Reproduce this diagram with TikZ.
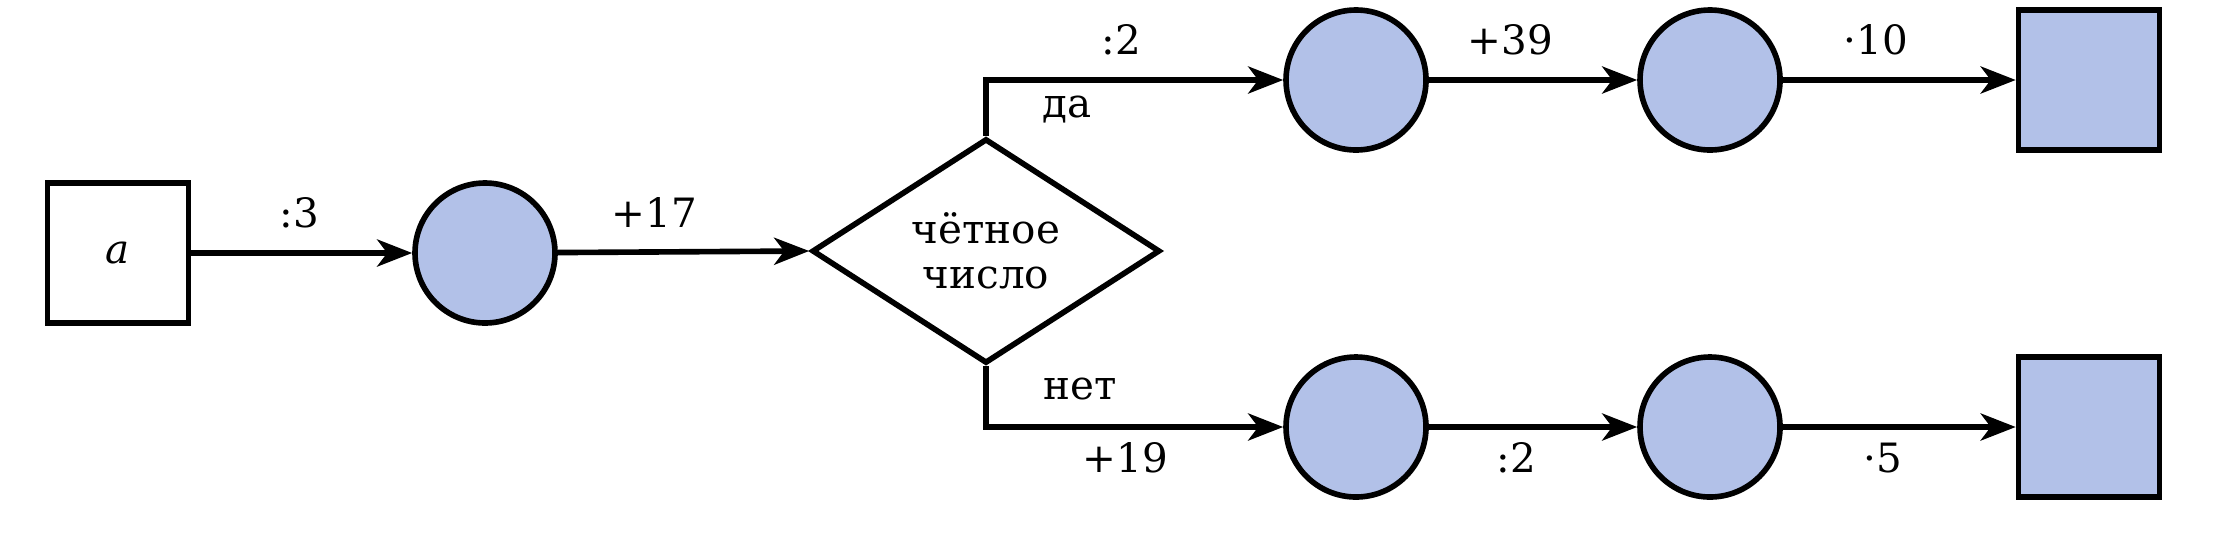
\documentclass[tikz,border=0pt]{standalone}
\usepackage{fontspec}
\setmainfont{DejaVu Serif}
\usepackage{xcolor}
\usepackage{tikz}
\usetikzlibrary{arrows.meta,positioning,shapes.geometric}

\definecolor{cellblue}{RGB}{178,193,232}

\begin{document}
\begin{tikzpicture}[
  line width=1.6pt,
  every node/.style={font=\fontsize{11.5}{12.8}\selectfont},
  valbox/.style={draw, minimum width=1.41cm, minimum height=1.40cm, inner sep=0pt},
  valcirc/.style={draw, circle, fill=cellblue, minimum size=1.40cm, inner sep=0pt},
  test/.style={draw, diamond, minimum width=3.48cm, minimum height=2.07cm, inner sep=0pt, align=center},
  flow/.style={-{Stealth[length=3.5mm,width=2.7mm,inset=1mm]}},
  op/.style={inner sep=0pt}
]
\useasboundingbox (0,0) rectangle (22.21,5.33);
\node[valbox] (a) at (1.18,2.80) {\textit{a}};
\node[valcirc] (c1) at (4.85,2.80) {};
\node[test] (d) at (9.86,2.82) {чётное\\число};
\foreach \r/\y in {u/4.53, l/1.06} {
  \node[valcirc] (\r1) at (13.56,\y) {};
  \node[valcirc] (\r2) at (17.10,\y) {};
  \node[valbox, fill=cellblue] (\r3) at (20.89,\y) {};
}
\draw[flow] (a) -- (c1) node[op, pos=0.49, above=2.2mm] {:3};
\draw[flow] (c1) -- (d.west) node[op, pos=0.385, above=2.2mm] {+17};
\draw[flow] (d.north) |- (u1)
  node[op, pos=0.636, below=1.3mm] {да}
  node[op, pos=0.728, above=2.2mm] {:2};
\draw[flow] (d.south) |- (l1)
  node[op, pos=0.658, above=2.4mm] {нет}
  node[op, pos=0.734, below=1.3mm] {+19};
\draw[flow] (u1) -- (u2) node[op, pos=0.39, above=2.2mm] {+39};
\draw[flow] (u2) -- (u3) node[op, pos=0.40, above=2.2mm] {·10};
\draw[flow] (l1) -- (l2) node[op, pos=0.42, below=1.3mm] {:2};
\draw[flow] (l2) -- (l3) node[op, pos=0.43, below=1.3mm] {·5};
\end{tikzpicture}
\end{document}
